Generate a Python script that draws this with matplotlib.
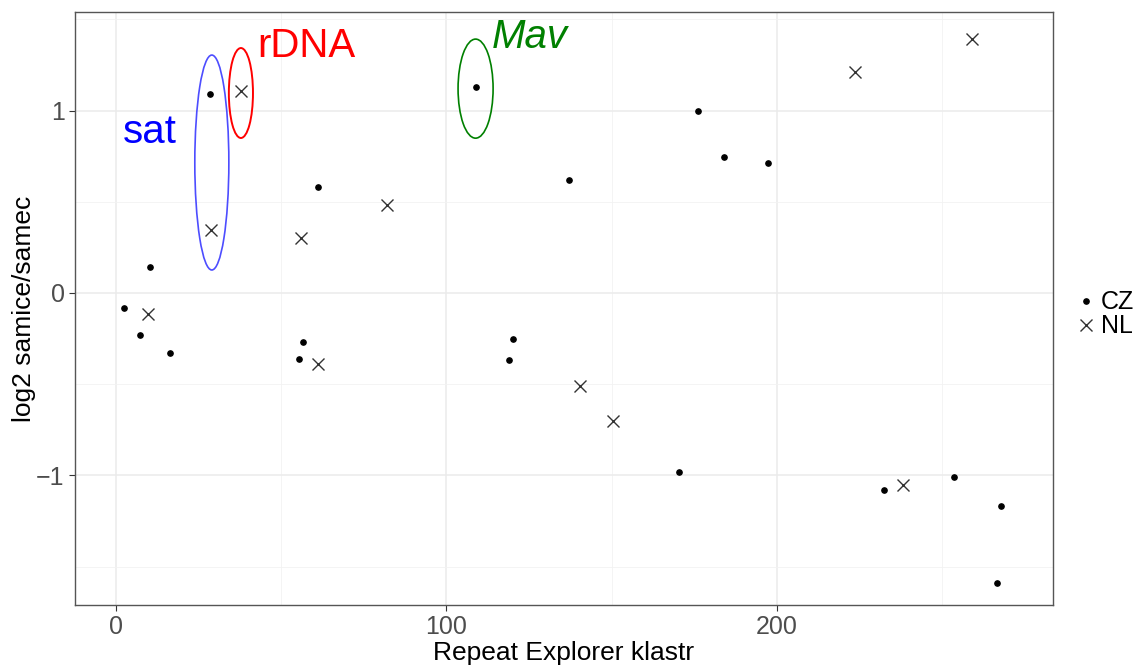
import matplotlib.pyplot as plt
from matplotlib.patches import Ellipse

plt.rcParams['font.family'] = ['Liberation Sans', 'DejaVu Sans']

# =========================
# Data
# =========================

cz_x = [2.4, 7.3, 10.3, 16.3, 28.4, 61.1, 55.4, 56.6, 108.9, 118.9, 120.1,
        137.1, 170.3, 176.1, 184.0, 197.3, 232.4, 253.6, 267.8, 266.6]
cz_y = [-0.08, -0.23, 0.14, -0.33, 1.09, 0.58, -0.36, -0.27, 1.13, -0.37, -0.25,
        0.62, -0.98, 1.00, 0.745, 0.71, -1.08, -1.01, -1.17, -1.59]

nl_x = [9.7, 28.7, 37.8, 56.0, 61.1, 82.0, 140.4, 150.4, 223.6, 238.1, 259.0]
nl_y = [-0.115, 0.345, 1.105, 0.30, -0.39, 0.48, -0.51, -0.70, 1.21, -1.05, 1.39]

# =========================
# Plot
# =========================

fig = plt.figure(figsize=(11.38, 6.67), dpi=100)
ax = fig.add_axes([0.0659, 0.093, 0.8594, 0.889])

ax.plot(cz_x, cz_y, 'o', color='black', ms=3.8, label="CZ", zorder=3)
ax.plot(nl_x, nl_y, 'x', color='#333333', ms=8, mew=1.0, label="NL", zorder=3)

# annotations
ax.add_patch(Ellipse((29.0, 0.715), 10.3, 1.178, fill=False, ec='#4d4dff', lw=1.2))
ax.add_patch(Ellipse((37.8, 1.096), 7.3, 0.493, fill=False, ec='red', lw=1.4))
ax.add_patch(Ellipse((108.8, 1.12), 10.6, 0.543, fill=False, ec='green', lw=1.2))
ax.text(10.3, 0.88, "sat", color='blue', fontsize=29, ha='center', va='center')
ax.text(57.5, 1.355, "rDNA", color='red', fontsize=29, ha='center', va='center')
ax.text(125.3, 1.405, "Mav", color='green', fontsize=29, ha='center', va='center',
        style='italic')

ax.set_xlim(-12.4, 283.5)
ax.set_ylim(-1.71, 1.54)
ax.set_xticks([0, 100, 200])
ax.set_yticks([-1, 0, 1])
ax.set_yticklabels(["\u22121", "0", "1"])
ax.set_xticks([50, 150, 250], minor=True)
ax.set_yticks([-1.5, -0.5, 0.5, 1.5], minor=True)
ax.grid(which='major', color='#ebebeb', lw=1.1)
ax.grid(which='minor', color='#f2f2f2', lw=0.6)
ax.set_axisbelow(True)
ax.tick_params(which='major', length=4, color='#333333', labelsize=18,
               labelcolor='#4d4d4d')
ax.tick_params(which='minor', length=0)
for s in ax.spines.values():
    s.set_color('#555555')
    s.set_linewidth(1.0)

ax.set_xlabel("Repeat Explorer klastr", fontsize=19, labelpad=1)
ax.set_ylabel("log2 samice/samec", fontsize=19, labelpad=0)

ax.legend(loc='center left', bbox_to_anchor=(1.016, 0.49), frameon=False,
          fontsize=18, handlelength=0.6, handletextpad=0.3, labelspacing=0.0,
          borderaxespad=0)

fig.savefig("out.png", dpi=100)
plt.close()
